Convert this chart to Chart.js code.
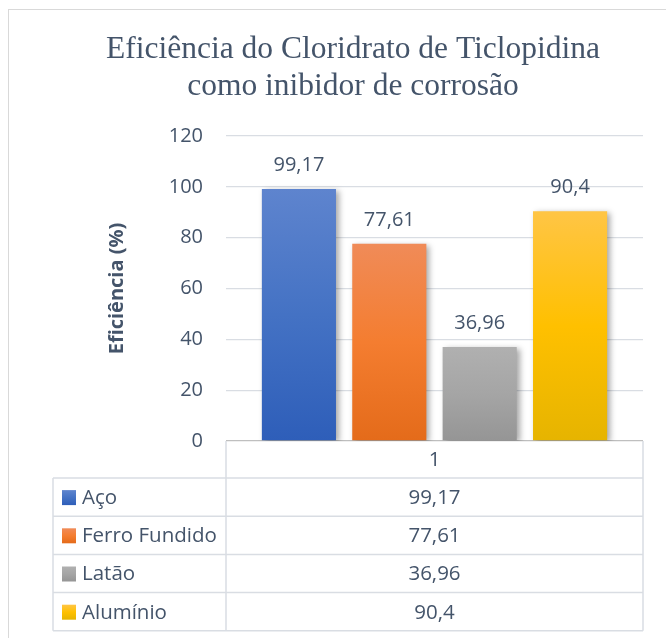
<!DOCTYPE html>
<html>
<head>
<meta charset="utf-8">
<script src="https://cdn.jsdelivr.net/npm/chart.js@4/dist/chart.umd.min.js"></script>
<style>
  body { margin: 0; background: #fff; }
  canvas { display: block; }
</style>
</head>
<body>
<canvas id="chart" width="666" height="638"></canvas>
<script>
// Chart data
const categories = ['1'];
const seriesNames = ['Aço', 'Ferro Fundido', 'Latão', 'Alumínio'];
const aco = [99.17];
const ferroFundido = [77.61];
const latao = [36.96];
const aluminio = [90.4];
const yMax = 120;
const yStep = 20;

const titleLines = ['Eficiência do Cloridrato de Ticlopidina', 'como inibidor de corrosão'];
const yTitle = 'Eficiência (%)';

// gradient stops (top, middle, bottom) for each series
const gradients = [
    ['#5E84CE', '#4472C4', '#2E5EB9'],
    ['#F08B58', '#F47D30', '#E46B1A'],
    ['#B0B0B0', '#A5A5A5', '#959595'],
    ['#FFC545', '#FFC000', '#E6B400']
];

const textColor = '#44546A';
const sansFont = "'Open Sans', 'Noto Sans', sans-serif";

function fmt(v) {
    return String(v).replace('.', ',');
}

function barGradient(i) {
    return function (ctx) {
        const chart = ctx.chart;
        const area = chart.chartArea;
        if (!area || ctx.parsed === undefined) return gradients[i][1];
        const top = chart.scales.y.getPixelForValue(ctx.parsed.y);
        const g = chart.ctx.createLinearGradient(0, top, 0, area.bottom);
        g.addColorStop(0, gradients[i][0]);
        g.addColorStop(0.5, gradients[i][1]);
        g.addColorStop(1, gradients[i][2]);
        return g;
    };
}

// Background + outer border
const frame = {
    id: 'frame',
    beforeDraw(chart) {
        const c = chart.ctx;
        c.save();
        c.fillStyle = '#fff';
        c.fillRect(0, 0, chart.width, chart.height);
        c.strokeStyle = '#D9D9D9';
        c.lineWidth = 1;
        c.strokeRect(8.5, 9.5, 700, 700);
        c.restore();
    }
};

// soft shadow on the bars
const barShadow = {
    id: 'barShadow',
    beforeDatasetDraw(chart) {
        const c = chart.ctx;
        c.save();
        c.shadowColor = 'rgba(0,0,0,0.35)';
        c.shadowBlur = 6;
        c.shadowOffsetX = 3;
        c.shadowOffsetY = 2;
    },
    afterDatasetDraw(chart) {
        chart.ctx.restore();
    }
};

// value labels above bars
const valueLabels = {
    id: 'valueLabels',
    afterDatasetsDraw(chart) {
        const c = chart.ctx;
        c.save();
        c.font = '20px ' + sansFont;
        c.fillStyle = textColor;
        c.textAlign = 'center';
        c.textBaseline = 'alphabetic';
        chart.data.datasets.forEach((ds, i) => {
            const meta = chart.getDatasetMeta(i);
            meta.data.forEach((bar, j) => {
                c.fillText(fmt(ds.data[j]), bar.x, bar.y - 18);
            });
        });
        c.restore();
    }
};

// data table under the plot
const dataTable = {
    id: 'dataTable',
    afterDraw(chart) {
        const c = chart.ctx;
        const area = chart.chartArea;
        const left = 53, mid = area.left, right = area.right;
        const top = area.bottom;
        const headerH = 37, rowH = 38.2;
        const n = chart.data.datasets.length;
        const bottom = top + headerH + n * rowH;
        c.save();
        c.strokeStyle = '#D9DDE3';
        c.lineWidth = 1.5;
        c.beginPath();
        c.moveTo(mid, top); c.lineTo(mid, bottom);
        c.moveTo(right, top); c.lineTo(right, bottom);
        c.moveTo(left, top + headerH); c.lineTo(left, bottom);
        for (let r = 0; r <= n; r++) {
            const y = top + headerH + r * rowH;
            c.moveTo(left, y); c.lineTo(right, y);
        }
        c.stroke();

        c.font = '20.5px ' + sansFont;
        c.fillStyle = textColor;
        c.textBaseline = 'middle';
        c.textAlign = 'center';
        const cx = (mid + right) / 2;
        c.fillText(chart.data.labels[0], cx, top + headerH / 2 + 1);

        chart.data.datasets.forEach((ds, i) => {
            const yc = top + headerH + i * rowH + rowH / 2;
            const g = c.createLinearGradient(0, yc - 7, 0, yc + 8);
            g.addColorStop(0, gradients[i][0]);
            g.addColorStop(0.5, gradients[i][1]);
            g.addColorStop(1, gradients[i][2]);
            c.fillStyle = g;
            c.fillRect(62, yc - 7, 14, 15);
            c.fillStyle = textColor;
            c.textAlign = 'left';
            c.fillText(ds.label, 82, yc + 1);
            c.textAlign = 'center';
            c.fillText(fmt(ds.data[0]), cx, yc + 1);
        });
        c.restore();
    }
};

const series = [aco, ferroFundido, latao, aluminio];

const chart = new Chart(document.getElementById('chart'), {
    type: 'bar',
    data: {
        labels: categories,
        datasets: series.map((d, i) => ({
            label: seriesNames[i],
            data: d,
            backgroundColor: barGradient(i),
            borderWidth: 0,
            barPercentage: 0.82,
            categoryPercentage: 0.867
        }))
    },
    options: {
        responsive: false,
        animation: false,
        devicePixelRatio: 1,
        layout: {
            padding: { left: 63, right: 23, top: 0, bottom: 197 }
        },
        plugins: {
            legend: { display: false },
            tooltip: { enabled: false },
            title: {
                display: true,
                text: titleLines,
                color: textColor,
                font: { family: "'Liberation Serif', 'Times New Roman', serif", size: 31.5, weight: 'normal', lineHeight: 37 / 31.5 },
                padding: { top: 31, bottom: 31 }
            }
        },
        scales: {
            x: {
                display: false
            },
            y: {
                min: 0,
                max: yMax,
                afterFit(scale) { scale.width = 226 - 63; },
                ticks: {
                    stepSize: yStep,
                    color: textColor,
                    padding: 23,
                    font: { family: sansFont, size: 20 }
                },
                grid: {
                    drawTicks: false,
                    lineWidth: 1.3,
                    color: (ctx) => ctx.tick && ctx.tick.value === 0 ? '#BFBFBF' : '#D9DDE3'
                },
                border: { display: false },
                title: {
                    display: true,
                    text: yTitle,
                    color: textColor,
                    font: { family: sansFont, size: 20, weight: 'bold' },
                    padding: { top: 42, bottom: 0 }
                }
            }
        }
    },
    plugins: [frame, barShadow, valueLabels, dataTable]
});
</script>
</body>
</html>
